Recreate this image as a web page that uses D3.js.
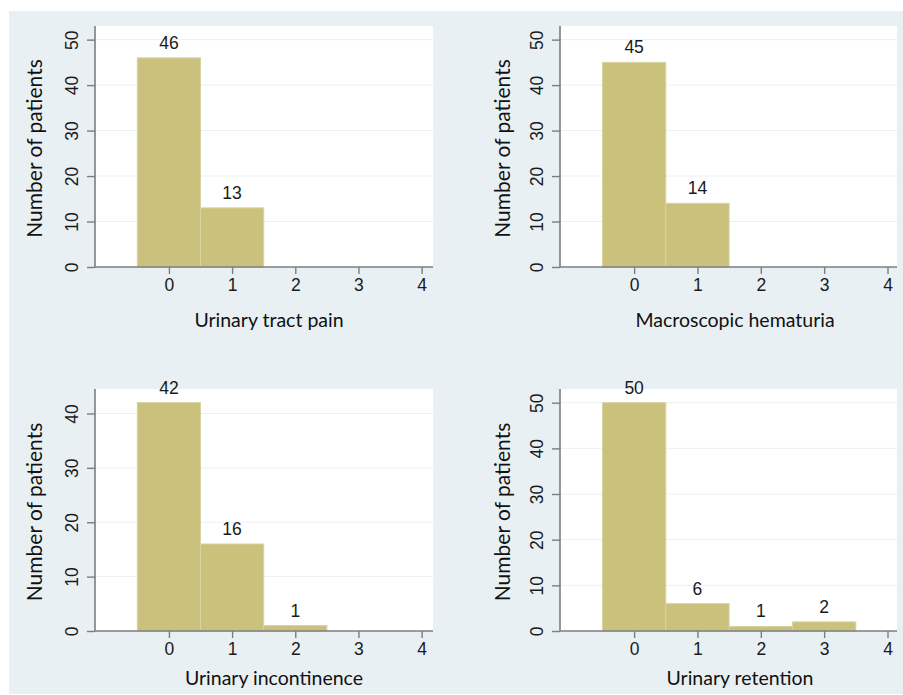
<!DOCTYPE html>
<html>
<head>
<meta charset="utf-8">
<script src="https://cdn.jsdelivr.net/npm/d3@7"></script>
<style>
  html, body { margin: 0; padding: 0; background: #ffffff; }
  svg { display: block; }
</style>
</head>
<body>
<svg id="chart" width="903" height="695"></svg>
<script>
// ---- data ----
const categories = [0, 1, 2, 3, 4];
const xTickLabels = ["0", "1", "2", "3", "4"];
const panelTitles = ["Urinary tract pain", "Macroscopic hematuria", "Urinary incontinence", "Urinary retention"];
const urinaryTractPain = [46, 13, 0, 0, 0];
const macroscopicHematuria = [45, 14, 0, 0, 0];
const urinaryIncontinence = [42, 16, 1, 0, 0];
const urinaryRetention = [50, 6, 1, 2, 0];
const yTicks50 = [0, 10, 20, 30, 40, 50];
const yTicks40 = [0, 10, 20, 30, 40];
const yAxisTitle = "Number of patients";

// ---- layout (positions / styles) ----
const layout = [
  { values: urinaryTractPain,     ticks: yTicks50, yMax: 53,   x0: 95,  x1: 433, y0: 26,  y1: 267, xDom: [-1.17, 4.18], titleX: 269, titleDy: 60, yTitleX: 35 },
  { values: macroscopicHematuria, ticks: yTicks50, yMax: 53,   x0: 560, x1: 897, y0: 26,  y1: 267, xDom: [-1.17, 4.15], titleX: 735, titleDy: 60, yTitleX: 503 },
  { values: urinaryIncontinence,  ticks: yTicks40, yMax: 44.5, x0: 95,  x1: 433, y0: 389, y1: 631, xDom: [-1.17, 4.18], titleX: 274, titleDy: 54, yTitleX: 35 },
  { values: urinaryRetention,     ticks: yTicks50, yMax: 53,   x0: 560, x1: 897, y0: 389, y1: 631, xDom: [-1.17, 4.15], titleX: 740, titleDy: 54, yTitleX: 503 }
];

const BG = "#e9f0f3";
const BAR = "#c9c17c";
const BAR_STROKE = "#d9d3a1";
const AXIS = "#7d7d7d";
const GRID = "#eceff0";
const numFont = "'Liberation Sans', Arial, sans-serif";
const txtFont = "Lato, 'Open Sans', sans-serif";
const NUM_SIZE = 17.5;

const svg = d3.select("#chart");

svg.append("rect")
  .attr("x", 9).attr("y", 11).attr("width", 894).attr("height", 683)
  .attr("fill", BG);

layout.forEach((p, i) => {
  const g = svg.append("g");
  const x = d3.scaleLinear().domain(p.xDom).range([p.x0, p.x1]);
  const y = d3.scaleLinear().domain([0, p.yMax]).range([p.y1, p.y0]);

  // plot region
  g.append("rect")
    .attr("x", p.x0).attr("y", p.y0)
    .attr("width", p.x1 - p.x0).attr("height", p.y1 - p.y0)
    .attr("fill", "#ffffff");

  // gridlines
  g.selectAll(".grid").data(p.ticks.filter(t => t > 0)).enter()
    .append("line")
    .attr("x1", p.x0 + 1).attr("x2", p.x1)
    .attr("y1", d => y(d)).attr("y2", d => y(d))
    .attr("stroke", GRID).attr("stroke-width", 1);

  // bars
  const data = categories.map((c, k) => ({ c, v: p.values[k] })).filter(d => d.v > 0);
  g.selectAll(".bar").data(data).enter()
    .append("rect")
    .attr("x", d => x(d.c - 0.5))
    .attr("width", d => x(d.c + 0.5) - x(d.c - 0.5))
    .attr("y", d => y(d.v))
    .attr("height", d => y(0) - y(d.v))
    .attr("fill", BAR)
    .attr("stroke", BAR_STROKE).attr("stroke-width", 1);

  // value labels
  g.selectAll(".val").data(data).enter()
    .append("text")
    .attr("x", d => x(d.c))
    .attr("y", d => y(d.v) - 9)
    .attr("text-anchor", "middle")
    .attr("font-family", numFont).attr("font-size", NUM_SIZE)
    .attr("fill", "#1a1a1a")
    .text(d => d.v);

  // x axis
  const xAxis = d3.axisBottom(x).tickValues(categories)
    .tickFormat((d, k) => xTickLabels[k]).tickSize(7).tickPadding(5);
  const xg = g.append("g").attr("transform", `translate(0,${p.y1})`).call(xAxis);
  xg.select(".domain").attr("d", `M${p.x0},0H${p.x1}`).attr("stroke", AXIS).attr("stroke-width", 1.6);
  xg.selectAll(".tick line").attr("stroke", AXIS).attr("stroke-width", 1.4);
  xg.selectAll(".tick text")
    .attr("font-family", numFont).attr("font-size", NUM_SIZE).attr("fill", "#1a1a1a");

  // y axis
  const yAxis = d3.axisLeft(y).tickValues(p.ticks).tickSize(8).tickPadding(0);
  const yg = g.append("g").attr("transform", `translate(${p.x0},0)`).call(yAxis);
  yg.select(".domain").attr("d", `M0,${p.y0}V${p.y1}`).attr("stroke", AXIS).attr("stroke-width", 1.6);
  yg.selectAll(".tick line").attr("stroke", AXIS).attr("stroke-width", 1.4);
  yg.selectAll(".tick text")
    .attr("dy", null)
    .attr("x", 0).attr("y", -23)
    .attr("transform", "rotate(-90)")
    .attr("text-anchor", "middle")
    .attr("dominant-baseline", "central")
    .attr("font-family", numFont).attr("font-size", NUM_SIZE).attr("fill", "#1a1a1a");

  // x title
  g.append("text")
    .attr("x", p.titleX).attr("y", p.y1 + p.titleDy)
    .attr("text-anchor", "middle")
    .attr("font-family", txtFont).attr("font-size", 19.5).attr("fill", "#111")
    .text(panelTitles[i]);

  // y title
  g.append("text")
    .attr("transform", `translate(${p.yTitleX + 7},${(p.y0 + p.y1) / 2 + 2}) rotate(-90)`)
    .attr("text-anchor", "middle")
    .attr("font-family", txtFont).attr("font-size", 21).attr("fill", "#111")
    .text(yAxisTitle);
});
</script>
</body>
</html>
